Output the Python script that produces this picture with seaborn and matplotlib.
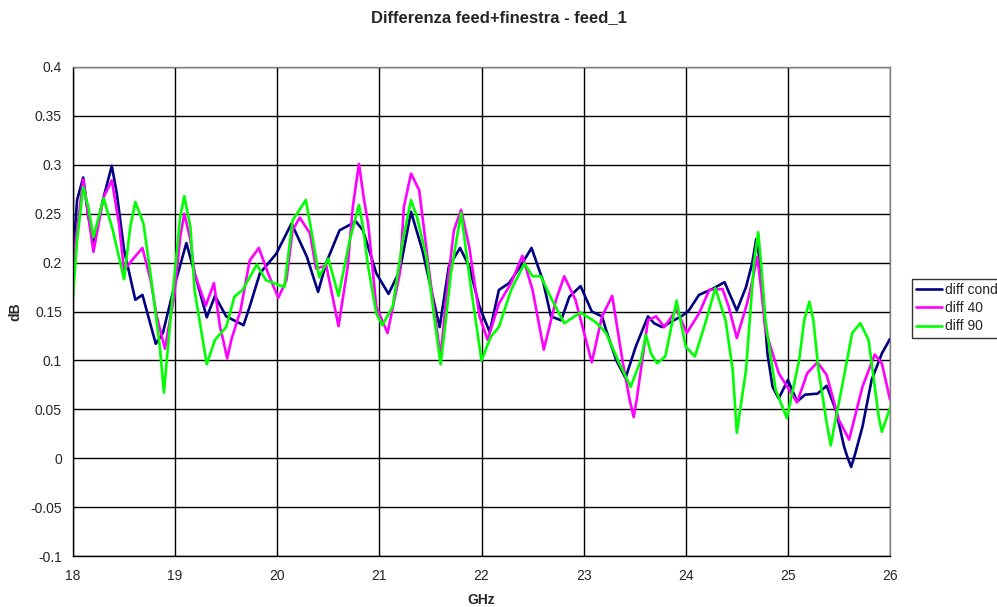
import matplotlib
matplotlib.use("Agg")
import matplotlib.pyplot as plt
import seaborn as sns
import pandas as pd

title = "Differenza feed+finestra - feed_1"
x_label = "GHz"
y_label = "dB"
series_names = ["diff cond", "diff 40", "diff 90"]
series_colors = ["#000080", "#FF00FF", "#00FF00"]

cond_x = [18.0, 18.04, 18.10, 18.15, 18.20, 18.30, 18.38, 18.43, 18.50, 18.61, 18.68, 18.81,
          18.88, 18.99, 19.11, 19.21, 19.31, 19.39, 19.50, 19.67, 19.73, 19.83, 19.99, 20.14,
          20.29, 20.40, 20.48, 20.61, 20.77, 20.84, 20.97, 21.09, 21.20, 21.31, 21.42, 21.59,
          21.68, 21.79, 21.88, 21.98, 22.08, 22.17, 22.27, 22.38, 22.49, 22.60, 22.68, 22.78,
          22.86, 22.97, 23.08, 23.18, 23.22, 23.32, 23.41, 23.51, 23.63, 23.69, 23.77, 23.85,
          23.97, 24.03, 24.13, 24.26, 24.38, 24.50, 24.59, 24.65, 24.69, 24.72, 24.75, 24.80,
          24.85, 24.91, 25.00, 25.09, 25.17, 25.29, 25.38, 25.47, 25.55, 25.58, 25.62, 25.66,
          25.73, 25.82, 25.92, 26.0]
cond_y = [0.205, 0.264, 0.287, 0.247, 0.221, 0.267, 0.299, 0.270, 0.213, 0.162, 0.167, 0.117,
          0.128, 0.175, 0.220, 0.182, 0.144, 0.166, 0.145, 0.136, 0.155, 0.189, 0.209, 0.240,
          0.206, 0.170, 0.200, 0.233, 0.242, 0.233, 0.189, 0.168, 0.192, 0.252, 0.213, 0.134,
          0.196, 0.215, 0.196, 0.155, 0.129, 0.172, 0.179, 0.196, 0.215, 0.182, 0.145, 0.141,
          0.165, 0.176, 0.150, 0.145, 0.131, 0.100, 0.082, 0.114, 0.145, 0.138, 0.134, 0.139,
          0.146, 0.151, 0.167, 0.173, 0.180, 0.151, 0.175, 0.199, 0.224, 0.206, 0.175, 0.107,
          0.073, 0.061, 0.080, 0.058, 0.065, 0.066, 0.074, 0.049, 0.012, 0.002, -0.009, 0.005,
          0.032, 0.080, 0.107, 0.122]

d40_x = [18.0, 18.10, 18.20, 18.30, 18.38, 18.45, 18.50, 18.59, 18.68, 18.76, 18.82, 18.90,
         18.99, 19.05, 19.09, 19.15, 19.19, 19.30, 19.38, 19.44, 19.47, 19.51, 19.55, 19.64,
         19.73, 19.82, 19.91, 20.01, 20.09, 20.15, 20.22, 20.32, 20.38, 20.48, 20.60, 20.69,
         20.74, 20.80, 20.85, 20.89, 20.97, 21.08, 21.20, 21.24, 21.31, 21.39, 21.49, 21.55,
         21.60, 21.64, 21.68, 21.73, 21.80, 21.88, 21.98, 22.06, 22.17, 22.29, 22.40, 22.50,
         22.61, 22.73, 22.81, 22.92, 23.08, 23.18, 23.28, 23.38, 23.45, 23.49, 23.52, 23.56,
         23.63, 23.71, 23.79, 23.91, 24.01, 24.13, 24.23, 24.36, 24.42, 24.50, 24.60, 24.66,
         24.70, 24.74, 24.78, 24.91, 25.09, 25.19, 25.29, 25.38, 25.50, 25.60, 25.73, 25.85,
         25.92, 26.0]
d40_y = [0.199, 0.285, 0.211, 0.267, 0.284, 0.240, 0.192, 0.204, 0.215, 0.182, 0.145, 0.112,
         0.165, 0.226, 0.250, 0.223, 0.189, 0.156, 0.179, 0.134, 0.121, 0.102, 0.121, 0.151,
         0.202, 0.215, 0.189, 0.164, 0.182, 0.233, 0.246, 0.230, 0.194, 0.197, 0.135, 0.196,
         0.257, 0.301, 0.264, 0.240, 0.155, 0.128, 0.189, 0.257, 0.291, 0.274, 0.189, 0.141,
         0.104, 0.148, 0.189, 0.233, 0.254, 0.216, 0.145, 0.121, 0.158, 0.179, 0.207, 0.172,
         0.111, 0.162, 0.186, 0.162, 0.098, 0.145, 0.166, 0.100, 0.060, 0.042, 0.060, 0.090,
         0.141, 0.145, 0.134, 0.152, 0.128, 0.148, 0.172, 0.173, 0.155, 0.123, 0.158, 0.185,
         0.206, 0.172, 0.131, 0.087, 0.057, 0.087, 0.098, 0.085, 0.039, 0.019, 0.073, 0.106,
         0.097, 0.060]

d90_x = [18.0, 18.04, 18.10, 18.15, 18.20, 18.30, 18.39, 18.50, 18.56, 18.61, 18.69, 18.78,
         18.85, 18.89, 18.93, 18.98, 19.05, 19.09, 19.15, 19.19, 19.31, 19.39, 19.50, 19.58,
         19.66, 19.80, 19.89, 20.07, 20.15, 20.28, 20.35, 20.41, 20.50, 20.60, 20.71, 20.80,
         20.84, 20.89, 20.97, 21.03, 21.13, 21.23, 21.31, 21.37, 21.46, 21.55, 21.60, 21.65,
         21.70, 21.80, 21.90, 22.00, 22.09, 22.17, 22.29, 22.42, 22.50, 22.58, 22.69, 22.81,
         22.97, 23.12, 23.22, 23.35, 23.46, 23.56, 23.61, 23.66, 23.72, 23.80, 23.91, 24.00,
         24.09, 24.20, 24.29, 24.39, 24.46, 24.50, 24.59, 24.67, 24.71, 24.74, 24.78, 24.88,
         24.99, 25.11, 25.16, 25.21, 25.25, 25.30, 25.38, 25.42, 25.46, 25.53, 25.63, 25.71,
         25.79, 25.89, 25.92, 25.96, 26.0]
d90_y = [0.165, 0.223, 0.277, 0.257, 0.226, 0.266, 0.233, 0.183, 0.236, 0.262, 0.240, 0.172,
         0.114, 0.067, 0.114, 0.172, 0.247, 0.268, 0.236, 0.172, 0.096, 0.121, 0.134, 0.165,
         0.172, 0.198, 0.182, 0.175, 0.243, 0.264, 0.223, 0.185, 0.204, 0.166, 0.223, 0.259,
         0.236, 0.196, 0.148, 0.136, 0.155, 0.223, 0.264, 0.246, 0.206, 0.134, 0.096, 0.141,
         0.189, 0.251, 0.172, 0.100, 0.124, 0.134, 0.172, 0.199, 0.186, 0.186, 0.162, 0.138,
         0.149, 0.139, 0.128, 0.097, 0.073, 0.100, 0.126, 0.107, 0.097, 0.104, 0.161, 0.114,
         0.104, 0.141, 0.174, 0.141, 0.090, 0.026, 0.090, 0.202, 0.231, 0.196, 0.141, 0.070,
         0.041, 0.100, 0.141, 0.160, 0.141, 0.090, 0.036, 0.013, 0.036, 0.073, 0.128, 0.138,
         0.121, 0.042, 0.027, 0.039, 0.051]

x_ticks = [18, 19, 20, 21, 22, 23, 24, 25, 26]
y_ticks = [-0.1, -0.05, 0, 0.05, 0.1, 0.15, 0.2, 0.25, 0.3, 0.35, 0.4]
y_tick_labels = ["-0.1", "-0.05", "0", "0.05", "0.1", "0.15", "0.2", "0.25", "0.3", "0.35", "0.4"]

frames = []
for name, xs, ys in zip(series_names, [cond_x, d40_x, d90_x], [cond_y, d40_y, d90_y]):
    frames.append(pd.DataFrame({"GHz": xs, "dB": ys, "serie": name}))
df = pd.concat(frames, ignore_index=True)

sns.set_style("white")
plt.rcParams["font.family"] = ["Liberation Sans", "DejaVu Sans"]

W, H = 997, 607
fig = plt.figure(figsize=(W / 100, H / 100), dpi=100)
ax = fig.add_axes([73 / W, 1 - 556 / H, (890 - 73) / W, (556 - 67) / H])

sns.lineplot(data=df, x="GHz", y="dB", hue="serie", hue_order=series_names,
             palette=dict(zip(series_names, series_colors)), sort=False,
             estimator=None, linewidth=1.9, ax=ax, legend=True)

ax.set_xlim(18, 26)
ax.set_ylim(-0.1, 0.4)
ax.set_xticks(x_ticks)
ax.set_xticklabels([str(t) for t in x_ticks], fontsize=10)
ax.set_yticks(y_ticks)
ax.set_yticklabels(y_tick_labels, fontsize=10)
ax.grid(True, color="black", linewidth=1.0)
ax.set_axisbelow(True)
ax.tick_params(axis="x", direction="out", length=4, width=1, color="black", pad=5)
ax.tick_params(axis="y", direction="out", length=4, width=1, color="black", pad=4)
for side in ["left", "bottom"]:
    ax.spines[side].set_color("black")
    ax.spines[side].set_linewidth(1.0)
for side in ["top", "right"]:
    ax.spines[side].set_color("#808080")
    ax.spines[side].set_linewidth(1.0)

ax.set_xlabel(x_label, fontsize=10, fontweight="bold")
ax.set_ylabel(y_label, fontsize=10, fontweight="bold")
ax.xaxis.label.set_va("center")
ax.yaxis.label.set_va("center")
ax.xaxis.set_label_coords(0.5, (556 - 600) / (556 - 67))
ax.yaxis.set_label_coords((15 - 73) / (890 - 73), 0.5)
fig.text(0.5, 1 - 18 / H, title, ha="center", va="center", fontsize=12, fontweight="bold")

handles, labels = ax.get_legend_handles_labels()
ax.get_legend().remove()
leg = fig.legend(handles, labels, loc="upper left", bbox_to_anchor=(912 / W, 1 - 279 / H),
                 frameon=True, fancybox=False, fontsize=10, handlelength=1.85,
                 borderpad=0.3, labelspacing=0.3, handletextpad=0.2, borderaxespad=0)
leg.get_frame().set_edgecolor("black")
leg.get_frame().set_linewidth(1.0)

fig.savefig("out.png", dpi=100)
